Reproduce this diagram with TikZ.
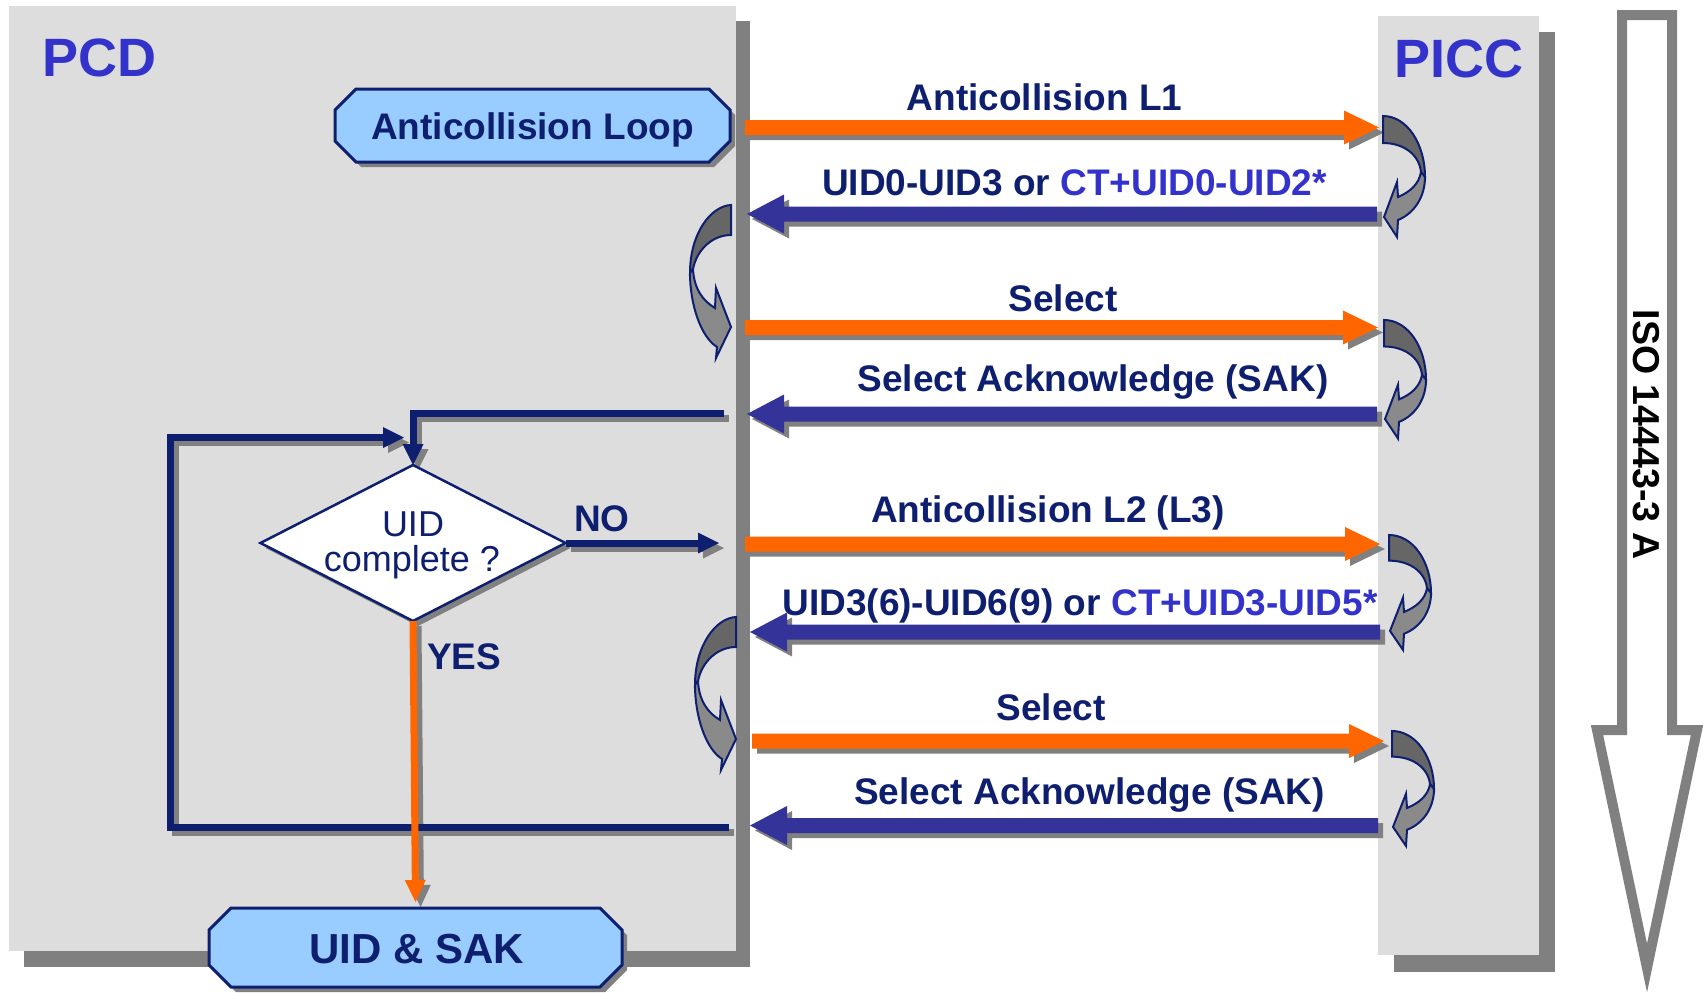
\documentclass[tikz,border=0pt]{standalone}
\usepackage{fontspec}
\setmainfont{Liberation Sans}
\usetikzlibrary{arrows.meta,shapes.geometric,calc}
\definecolor{boxgray}{HTML}{DDDDDD}
\definecolor{shadowgray}{HTML}{808080}
\definecolor{orangearr}{HTML}{FF6600}
\definecolor{navyarr}{HTML}{333399}
\definecolor{navytxt}{HTML}{0F1F70}
\definecolor{bluetxt}{HTML}{3333CC}
\definecolor{nodeblue}{HTML}{99CCFF}
\definecolor{curvedark}{HTML}{666666}
\definecolor{curvelight}{HTML}{8A8A8A}
\newcommand{\setfs}[1]{\fontsize{#1}{#1}\selectfont}
% block message arrow: #1 start, #2 tip, #3 colour, #4 signed head length, #5 half head height
\newcommand{\blockarrow}[5]{%
  \fill[#3] ([yshift=7.5pt]#1) -- ([xshift={-(#4)*1pt},yshift=7.5pt]#2) -- ([xshift={-(#4)*1pt},yshift=#5pt]#2) -- (#2) -- ([xshift={-(#4)*1pt},yshift=-#5pt]#2) -- ([xshift={-(#4)*1pt},yshift=-7.5pt]#2) -- ([yshift=-7.5pt]#1) -- cycle;}
% chamfered box outline around a node
\newcommand{\octa}[2]{([xshift=#2pt]#1.north west) -- ([xshift=-#2pt]#1.north east) -- ([yshift=-#2pt]#1.north east) -- ([yshift=#2pt]#1.south east) -- ([xshift=-#2pt]#1.south east) -- ([xshift=#2pt]#1.south west) -- ([yshift=#2pt]#1.south west) -- ([yshift=-#2pt]#1.north west) -- cycle}
% curved turn arrows
\newcommand{\piccturn}[3]{%
  \begin{scope}[shift={(#1,#2)}, yscale=#3]
    \filldraw[fill=curvedark, draw=navytxt, line width=2pt] (0,0) .. controls (24,0) and (42,28) .. (42,61) -- (38,56) .. controls (36,38) and (20,27) .. (0,27) -- cycle;
    \filldraw[fill=curvelight, draw=navytxt, line width=2pt] (42,61) .. controls (42,80) and (32,97) .. (15,104) -- (14,121) -- (1,101) -- (14,66) -- (15,81) .. controls (27,76) and (36,68) .. (38,56) -- cycle;
  \end{scope}}
\newcommand{\pcdturn}[2]{%
  \begin{scope}[shift={(#1,#2)}]
    \filldraw[fill=curvedark, draw=navytxt, line width=2pt] (0,0) .. controls (-20,1) and (-41,28) .. (-41,68) -- (-38,64) .. controls (-34,44) and (-18,30) .. (0,30) -- cycle;
    \filldraw[fill=curvelight, draw=navytxt, line width=2pt] (-41,68) .. controls (-41,100) and (-30,132) .. (-14,142) -- (-15,153) -- (0,122) -- (-15,83) -- (-16,103) .. controls (-28,96) and (-37,84) .. (-38,64) -- cycle;
  \end{scope}}
\begin{document}
\begin{tikzpicture}[x=1pt,y=-1pt,
  msglabel/.style={font=\bfseries\setfs{37}, text=navytxt, anchor=base, inner sep=0pt},
  navyline/.style={draw=navytxt, line width=7pt, -{Triangle[length=21pt,width=21pt,line width'=0pt]}},
  orangeline/.style={draw=orangearr, line width=7pt, -{Triangle[length=22pt,width=21pt,line width'=0pt]}},
  shadowline/.style={draw=shadowgray},
  octbox/.style={fill=nodeblue, draw=navytxt, line width=3pt},
  frame/.style={inner sep=0pt, outer sep=0pt}
]
\useasboundingbox (0,0) rectangle (1703,993);
\fill[white] (0,0) rectangle (1703,993);

% PCD and PICC panels
\fill[shadowgray] (24,21) rectangle (750,967);
\fill[boxgray] (9,6) rectangle (736,951);
\fill[shadowgray] (1394,32) rectangle (1555,972);
\fill[boxgray] (1378,16) rectangle (1539,955);

% invisible frames for shapes
\node[diamond, frame, minimum width=305pt, minimum height=156pt] (dec) at (413,543) {};
\node[rectangle, frame, minimum width=395pt, minimum height=73pt] (loop) at (532.5,125.5) {};
\node[rectangle, frame, minimum width=413pt, minimum height=79pt] (uidsak) at (415.5,947.5) {};

% coordinates of message arrows
\coordinate (m1s) at (745,127.5);  \coordinate (m1e) at (1379,127.5);
\coordinate (m2s) at (1377,214);   \coordinate (m2e) at (747,214);
\coordinate (m3s) at (745,327.5);  \coordinate (m3e) at (1378,327.5);
\coordinate (m4s) at (1377,414);   \coordinate (m4e) at (747,414);
\coordinate (m5s) at (745,544);    \coordinate (m5e) at (1380,544);
\coordinate (m6s) at (1380,632);   \coordinate (m6e) at (750,632);
\coordinate (m7s) at (752,741);    \coordinate (m7e) at (1384,741);
\coordinate (m8s) at (1378,825.5); \coordinate (m8e) at (750,825.5);
% loop coordinates
\coordinate (noend) at (719,543);
\coordinate (l2s) at (724,413.5);
\coordinate (l1s) at (729,827);
\coordinate (l1c1) at (170,827);
\coordinate (l1c2) at (170,437.5);
\coordinate (l1e) at (404,437.5);

% ---------- shadow layer ----------
\begin{scope}[transform canvas={shift={(5pt,-5pt)}}]
  \blockarrow{m1s}{m1e}{shadowgray}{35}{17}
  \blockarrow{m2s}{m2e}{shadowgray}{-37}{19.5}
  \blockarrow{m3s}{m3e}{shadowgray}{35}{17}
  \blockarrow{m4s}{m4e}{shadowgray}{-37}{19.5}
  \blockarrow{m5s}{m5e}{shadowgray}{35}{17}
  \blockarrow{m6s}{m6e}{shadowgray}{-37}{19.5}
  \blockarrow{m7s}{m7e}{shadowgray}{35}{17}
  \blockarrow{m8s}{m8e}{shadowgray}{-37}{19.5}
  \draw[navyline, shadowline] (l1s) -- (l1c1) -- (l1c2) -- (l1e);
  \draw[navyline, shadowline] (l2s) -| (dec.north);
  \draw[navyline, shadowline] (dec.east) -- (noend);
  \draw[orangeline, shadowline] (dec.south) -- ([yshift=6pt]uidsak.north);
  \fill[shadowgray] (dec.north) -- (dec.east) -- (dec.south) -- (dec.west) -- cycle;
  \fill[shadowgray] \octa{loop}{21};
  \fill[shadowgray] \octa{uidsak}{22};
\end{scope}

% ---------- message arrows ----------
\blockarrow{m1s}{m1e}{orangearr}{35}{17}
\blockarrow{m2s}{m2e}{navyarr}{-37}{19.5}
\blockarrow{m3s}{m3e}{orangearr}{35}{17}
\blockarrow{m4s}{m4e}{navyarr}{-37}{19.5}
\blockarrow{m5s}{m5e}{orangearr}{35}{17}
\blockarrow{m6s}{m6e}{navyarr}{-37}{19.5}
\blockarrow{m7s}{m7e}{orangearr}{35}{17}
\blockarrow{m8s}{m8e}{navyarr}{-37}{19.5}

% ---------- PCD flow ----------
\draw[navyline] (l1s) -- (l1c1) -- (l1c2) -- (l1e);
\draw[navyline] (l2s) -| (dec.north);
\draw[navyline] (dec.east) -- (noend);
\filldraw[fill=white, draw=navytxt, line width=2.5pt] (dec.north) -- (dec.east) -- (dec.south) -- (dec.west) -- cycle;
\draw[orangeline] (dec.south) -- ([yshift=6pt]uidsak.north);
\filldraw[octbox] \octa{loop}{21};
\filldraw[octbox] \octa{uidsak}{22};

% ---------- turn arrows ----------
\piccturn{1383}{116}{1}
\piccturn{1384}{320}{0.98}
\piccturn{1389}{535}{0.95}
\piccturn{1392}{731}{0.95}
\pcdturn{731}{205}
\pcdturn{736}{617}

% ---------- ISO arrow ----------
\filldraw[fill=white, draw=shadowgray, line width=10pt, line join=miter]
  (1622,15) -- (1672,15) -- (1672,730) -- (1697,730) -- (1647,968) -- (1597,730) -- (1622,730) -- cycle;
\node[rotate=-90, font=\bfseries\setfs{37.5}, text=black, inner sep=0pt] (iso) at (1646,435) {ISO 14443-3 A};

% ---------- texts ----------
\node[anchor=base west, font=\bfseries\setfs{54}, text=bluetxt, inner sep=0pt] (pcd) at (42,76) {PCD};
\node[anchor=base west, font=\bfseries\setfs{54}, text=bluetxt, inner sep=0pt] (picc) at (1394,77) {PICC};
\node[msglabel] (tloop) at (532.5,139) {Anticollision Loop};
\node[msglabel, font=\bfseries\setfs{42}] (tuid) at (416.5,963) {UID \& SAK};
\node[anchor=base, font=\setfs{36}, text=navytxt, inner sep=0pt] (tdec1) at (413,536) {UID};
\node[anchor=base, font=\setfs{36}, text=navytxt, inner sep=0pt] (tdec2) at (412,571) {complete ?};
\node[msglabel, anchor=base west] (tno) at (574,531) {NO};
\node[msglabel, anchor=base west] (tyes) at (427,669) {YES};

\node[msglabel] (t1) at (1044.5,110) {Anticollision L1};
\node[msglabel] (t2) at (1074.5,195) {UID0-UID3 or \textcolor{bluetxt}{CT+UID0-UID2*}};
\node[msglabel] (t3) at (1063,311) {Select};
\node[msglabel] (t4) at (1093,391) {Select Acknowledge (SAK)};
\node[msglabel] (t5) at (1048,522) {Anticollision L2 (L3)};
\node[msglabel] (t6) at (1080,615) {UID3(6)-UID6(9) or \textcolor{bluetxt}{CT+UID3-UID5*}};
\node[msglabel] (t7) at (1051,720) {Select};
\node[msglabel] (t8) at (1089.5,804) {Select Acknowledge (SAK)};
\end{tikzpicture}
\end{document}
